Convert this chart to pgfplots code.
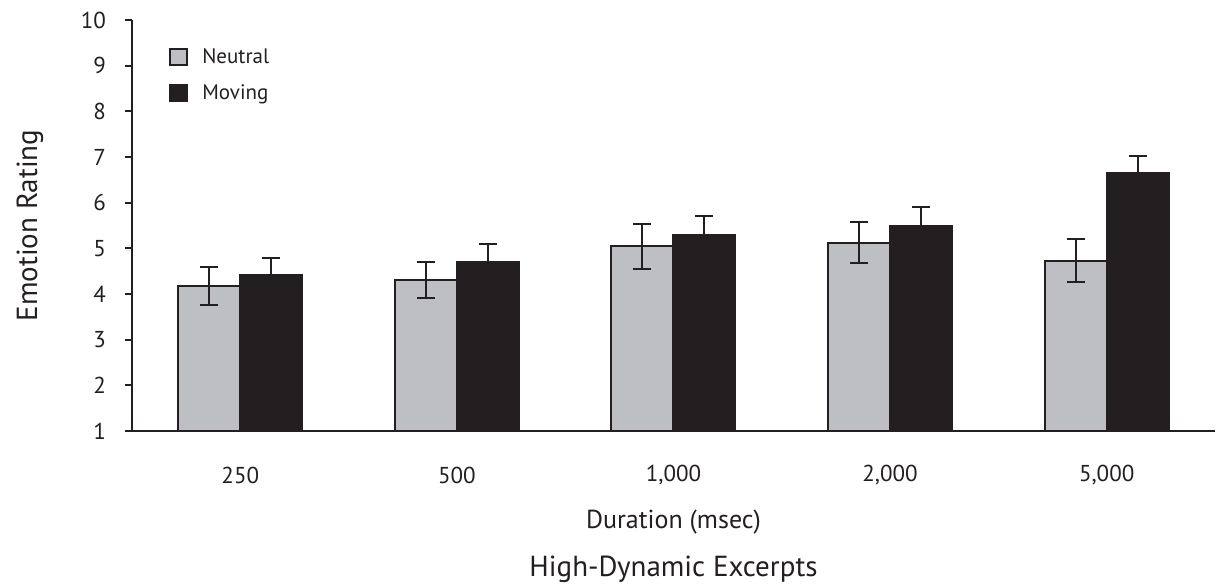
\documentclass[border=0pt]{standalone}
\usepackage{pgfplots}
\pgfplotsset{compat=1.18}
\usepackage{fontspec}
\setmainfont{PT Sans}
\definecolor{barblack}{RGB}{35,31,32}
\definecolor{bargray}{RGB}{190,191,195}
\pgfplotstableread{
x y e
0 4.18 0.42
1 4.31 0.40
2 5.04 0.49
3 5.12 0.45
4 4.73 0.47
}\neutral
\pgfplotstableread{
x y e
0 4.41 0.37
1 4.69 0.41
2 5.30 0.41
3 5.49 0.41
4 6.66 0.36
}\moving
\begin{document}
\begin{tikzpicture}
\useasboundingbox (-66pt,-78pt) rectangle (542.5pt,215.5pt);
\begin{axis}[
  at={(0,0)}, anchor=south west,
  scale only axis, width=541.5pt, height=205.5pt,
  ymin=1, ymax=10, ytick={1,...,10},
  xmin=-0.5, xmax=4.5,
  xtick={0,...,4}, xticklabels={250,500,{1,000},{2,000},{5,000}},
  minor xtick={-0.5,0.5,...,4.5},
  axis x line*=bottom, axis y line*=left,
  axis line style={barblack, line width=0.9pt},
  tick align=outside,
  major tick length=3.5pt, minor tick length=3.5pt,
  xtick style={draw=none},
  minor x tick style={barblack, line width=0.9pt},
  ytick style={barblack, line width=0.9pt},
  /pgf/number format/assume math mode=true,
  tick label style={font=\fontsize{11.5}{13}\selectfont, text=barblack},
  xticklabel style={anchor=center, yshift=-18.5pt},
  yticklabel style={anchor=east, xshift=-6pt},
  xlabel={Duration (msec)},
  xlabel style={at={(rel axis cs:0.5,0)}, anchor=center, yshift=-45.5pt, font=\fontsize{13}{15}\selectfont, text=barblack},
  ylabel={Emotion Rating},
  every axis y label/.style={at={(rel axis cs:0,0.5)}, xshift=-51pt, rotate=90, anchor=center, font=\fontsize{14.5}{17}\selectfont, text=barblack},
  ybar=0pt, bar width=31pt,
  legend style={draw=none, fill=none, at={(rel axis cs:0,1)}, anchor=north west, xshift=16.5pt, yshift=-10pt, font=\fontsize{10.5}{12}\selectfont, text=barblack, row sep=5pt, inner sep=2pt},
  legend cell align=left,
  legend image code/.code={\draw[#1, line width=0.9pt] (0pt,-4pt) rectangle (8.5pt,4pt); \path (13.5pt,0pt);},
]
\coordinate (bot) at (rel axis cs:0.5,0);
\addplot[fill=bargray, draw=barblack, line width=1pt,
  error bars/.cd, y dir=both, y explicit,
  error bar style={line width=1pt, draw=barblack},
  error mark options={rotate=90, mark size=4.5pt, line width=1pt, barblack}]
  table[x=x, y=y, y error=e]{\neutral};
\addplot[fill=barblack, draw=barblack, line width=1pt,
  error bars/.cd, y dir=both, y explicit,
  error bar style={line width=1pt, draw=barblack},
  error mark options={rotate=90, mark size=4.5pt, line width=1pt, barblack}]
  table[x=x, y=y, y error=e]{\moving};
\legend{Neutral, Moving}
\end{axis}
\node[anchor=center, text=barblack, font=\fontsize{14.5}{16}\selectfont] at ([yshift=-69pt]bot) {High-Dynamic Excerpts};
\end{tikzpicture}
\end{document}
